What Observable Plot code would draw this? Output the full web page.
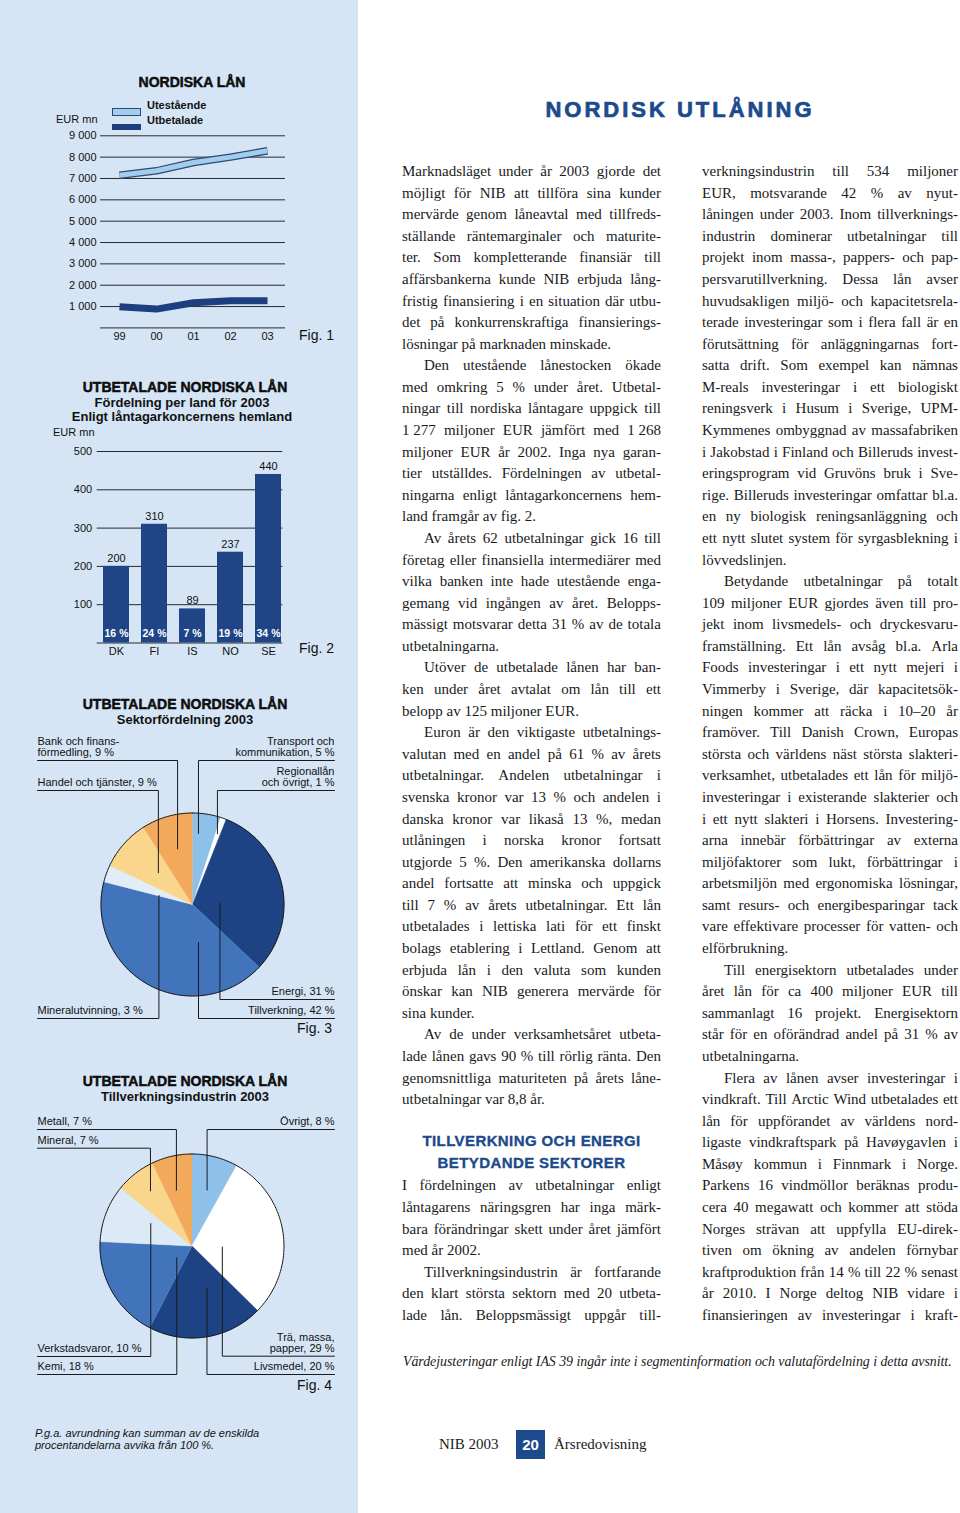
<!DOCTYPE html>
<html><head><meta charset="utf-8">
<script src="https://cdn.jsdelivr.net/npm/d3@7"></script>
<script src="https://cdn.jsdelivr.net/npm/@observablehq/plot@0.6"></script>
<style>
body{margin:0;background:#fff;}
#page{position:relative;width:960px;height:1513px;overflow:hidden;font-family:"Liberation Sans",Arial,sans-serif;color:#111;}
#panel{position:absolute;left:0;top:0;width:358px;height:1513px;background:#d5e5f5;}
.abs{position:absolute;white-space:nowrap;}
.ttl{font-weight:bold;font-size:14px;-webkit-text-stroke:0.45px #000;transform:translate(-50%,-50%);}
.sub{font-weight:bold;font-size:13px;transform:translate(-50%,-50%);}
.lbl{font-size:11px;transform:translateY(-50%);}
.fig{font-size:14px;transform:translateY(-50%);}
.chart{position:absolute;left:0;}
.chart svg{overflow:visible;}
.tl{position:absolute;height:21.6px;line-height:21.6px;font-family:"Liberation Serif","Times New Roman",serif;font-size:15px;color:#1a1a1a;white-space:nowrap;box-sizing:border-box;}
.just{display:flex;justify-content:space-between;}
.head{position:absolute;transform:translate(-50%,-50%);font-weight:bold;color:#1c4a8c;white-space:nowrap;-webkit-text-stroke:0.35px #1c4a8c;}
</style></head>
<body><div id="page"><div id="panel"></div></div>
<script>
// ---------- DATA ----------
const years = ["99","00","01","02","03"];
const outstanding = [7150, 7360, 7750, 8000, 8300];
const disbursed = [990, 880, 1180, 1268, 1277];
const fig1Ticks = [1000,2000,3000,4000,5000,6000,7000,8000,9000];

const countries = ["DK","FI","IS","NO","SE"];
const countryValues = [200, 310, 89, 237, 440];
const countryShares = ["16 %","24 %","7 %","19 %","34 %"];
const fig2Ticks = [100,200,300,400,500];

const sectorNames = ["Transport och\nkommunikation","Regionallån\noch övrigt","Energi","Tillverkning","Mineralutvinning","Handel och tjänster","Bank och finans-\nförmedling"];
const sectorValues = [5, 1, 31, 42, 3, 9, 9];
const sectorColors = ["#8dc1ea","#ffffff","#1e4384","#4274bc","#e3edf8","#f9d68c","#f2a95c"];

const industryNames = ["Övrigt","Trä, massa,\npapper","Livsmedel","Kemi","Verkstadsvaror","Mineral","Metall"];
const industryValues = [8, 29, 20, 18, 10, 7, 7];
const industryColors = ["#8dc1ea","#ffffff","#1e4384","#4274bc","#dce9f6","#f9d68c","#f2a95c"];

// ---------- LAYOUT ----------
const fig3Layout = [
  {side:"R", uy:30, ang:4.8, rf:0.78},
  {side:"R", uy:60, ang:19.4, rf:0.82},
  {side:"R", uy:269, ang:88, rf:0.30},
  {side:"R", uy:288, ang:171, rf:0.42},
  {side:"L", uy:288, ang:285, rf:0.38},
  {side:"L", uy:60, ang:313, rf:0.51},
  {side:"L", uy:30, ang:345, rf:0.63}
];
const fig4Layout = [
  {side:"R", uy:24, ang:15.1, rf:0.63},
  {side:"R", uy:250.7, ang:92, rf:0.33},
  {side:"R", uy:269, ang:160.6, rf:0.49},
  {side:"L", uy:269, ang:232, rf:0.21},
  {side:"L", uy:251, ang:298.5, rf:0.51},
  {side:"L", uy:42.7, ang:323, rf:0.75},
  {side:"L", uy:24, ang:344.4, rf:0.63}
];

const page = document.getElementById("page");
function add(html, cls, x, y, extra){
  const d = document.createElement("div");
  d.className = "abs " + cls; d.innerHTML = html;
  d.style.left = x + "px"; d.style.top = y + "px";
  if (extra) Object.assign(d.style, extra);
  page.appendChild(d); return d;
}
function place(svg, top){
  const w = document.createElement("div"); w.className = "chart"; w.style.top = top + "px";
  w.appendChild(svg); page.appendChild(w);
}
const baseStyle = {background:"transparent", fontFamily:"'Liberation Sans', Arial, sans-serif", fontSize:"11px", color:"#111", overflow:"visible"};
const fmt = d => d3.format(",")(d).replace(/,/g, " ");

// ---------- FIG 1 ----------
add("NORDISKA LÅN", "ttl", 192, 82);
add('<span style="display:inline-block;width:27px;height:6px;background:#a2cdef;border:1px solid #2b4a72;vertical-align:middle"></span>', "", 112, 102);
add('<span style="display:inline-block;width:29px;height:6px;background:#1d3f80;vertical-align:middle"></span>', "", 112, 117);
add("Utestående", "lbl", 147, 105, {fontWeight:"bold"});
add("Utbetalade", "lbl", 147, 119.5, {fontWeight:"bold"});
add("EUR mn", "lbl", 56, 118.5);
add("Fig. 1", "fig", 299, 335);

const f1out = years.map((y,i)=>({year:y, value:outstanding[i]}));
const f1dis = years.map((y,i)=>({year:y, value:disbursed[i]}));
place(Plot.plot({
  width:358, height:300, marginLeft:100, marginRight:73, marginTop:75.3, marginBottom:32.6,
  style:baseStyle,
  x:{type:"point", domain:years, padding:0.5},
  y:{domain:[0,9000]},
  marks:[
    Plot.ruleY([0, ...fig1Ticks], {stroke:"#2a2a2a", strokeWidth:1}),
    Plot.axisY({ticks:fig1Ticks, tickSize:0, tickPadding:4, tickFormat:fmt, label:null}),
    Plot.axisX({tickSize:0, tickPadding:4, label:null}),
    Plot.line(f1out, {x:"year", y:"value", stroke:"#2b4a72", strokeWidth:7.5, strokeLinecap:"butt"}),
    Plot.line(f1out, {x:"year", y:"value", stroke:"#a2cdef", strokeWidth:5, strokeLinecap:"butt"}),
    Plot.line(f1dis, {x:"year", y:"value", stroke:"#1d3f80", strokeWidth:7, strokeLinecap:"butt"})
  ]
}), 60);

// ---------- FIG 2 ----------
add("UTBETALADE NORDISKA LÅN", "ttl", 185, 386.5);
add("Fördelning per land för 2003", "sub", 182, 401.5);
add("Enligt låntagarkoncernens hemland", "sub", 182, 416);
add("EUR mn", "lbl", 53, 432);
add("Fig. 2", "fig", 299, 648);

const f2 = countries.map((c,i)=>({country:c, value:countryValues[i], share:countryShares[i]}));
place(Plot.plot({
  width:358, height:300, marginLeft:96.7, marginRight:75.7, marginTop:81, marginBottom:27.5,
  style:baseStyle,
  x:{type:"band", domain:countries, paddingInner:0.31, paddingOuter:0, insetLeft:5.3},
  y:{domain:[0,500]},
  marks:[
    Plot.ruleY([0, ...fig2Ticks], {stroke:"#2a2a2a", strokeWidth:1}),
    Plot.axisY({ticks:fig2Ticks, tickSize:0, tickPadding:5, label:null}),
    Plot.axisX({tickSize:0, tickPadding:4.5, label:null}),
    Plot.barY(f2, {x:"country", y:"value", fill:"#1f4587"}),
    Plot.text(f2, {x:"country", y:"value", text:d=>String(d.value), dy:-8, fontSize:11}),
    Plot.text(f2, {x:"country", y:()=>0, text:"share", dy:-9, fontSize:10.5, fontWeight:"bold", fill:"white"})
  ]
}), 370);

// ---------- PIES ----------
function pie(names, values, colors, layout, L){
  const arcs = d3.pie().sort(null).value(d=>d)(values);
  const polys = [];
  arcs.forEach((a,i)=>{
    polys.push({k:i, x:L.cx, y:L.cy, c:colors[i]});
    const n = Math.max(2, Math.ceil((a.endAngle-a.startAngle)/0.02));
    for (let j=0;j<=n;j++){
      const t = a.startAngle + (a.endAngle-a.startAngle)*j/n;
      polys.push({k:i, x:L.cx+L.r*Math.sin(t), y:L.cy-L.r*Math.cos(t), c:colors[i]});
    }
  });
  const ring = d3.range(0, 361, 2).map(t=>({x:L.cx+L.r*Math.sin(t*Math.PI/180), y:L.cy-L.r*Math.cos(t*Math.PI/180)}));
  const labels = names.map((n,i)=>({text:n+", "+values[i]+" %", side:layout[i].side, uy:layout[i].uy}));
  const leaders = [];
  layout.forEach((s,i)=>{
    const a = s.ang*Math.PI/180;
    const ax = L.cx + L.r*s.rf*Math.sin(a), ay = L.cy - L.r*s.rf*Math.cos(a);
    const ex = s.side==="L" ? L.left : L.right;
    leaders.push({k:i,x:ex,y:s.uy},{k:i,x:ax,y:s.uy},{k:i,x:ax,y:ay});
  });
  return Plot.plot({
    width:358, height:L.h, margin:0, style:baseStyle,
    x:{domain:[0,358], range:[0,358], axis:null},
    y:{domain:[0,L.h], range:[0,L.h], axis:null},
    marks:[
      Plot.line(polys, {x:"x", y:"y", z:"k", fill:"c", stroke:"c", strokeWidth:0.5}),
      Plot.line(ring, {x:"x", y:"y", stroke:"#1a1a1a", strokeWidth:1}),
      Plot.line(leaders, {x:"x", y:"y", z:"k", stroke:"#1a1a1a", strokeWidth:1}),
      Plot.text(labels.filter(d=>d.side==="L"), {x:()=>L.left, y:d=>d.uy-4.5, text:"text", textAnchor:"start", lineAnchor:"bottom", lineHeight:1.0, fontSize:11, fill:"#111"}),
      Plot.text(labels.filter(d=>d.side==="R"), {x:()=>L.right, y:d=>d.uy-4.5, text:"text", textAnchor:"end", lineAnchor:"bottom", lineHeight:1.0, fontSize:11, fill:"#111"})
    ]
  });
}

add("UTBETALADE NORDISKA LÅN", "ttl", 185, 704);
add("Sektorfördelning 2003", "sub", 185, 718.5);
place(pie(sectorNames, sectorValues, sectorColors, fig3Layout, {h:300, cx:192, cy:174, r:91.5, left:37, right:334}), 730);
add("Fig. 3", "fig", 297, 1028);

add("UTBETALADE NORDISKA LÅN", "ttl", 185, 1081);
add("Tillverkningsindustrin 2003", "sub", 185, 1095.5);
place(pie(industryNames, industryValues, industryColors, fig4Layout, {h:285, cx:191.5, cy:140.5, r:92, left:37, right:334}), 1105);
add("Fig. 4", "fig", 297, 1385);

add("P.g.a. avrundning kan summan av de enskilda<br>procentandelarna avvika från 100 %.", "", 35, 1427, {fontSize:"11px", fontStyle:"italic", lineHeight:"12px"});

// ---------- RIGHT COLUMN TEXT ----------
add("NORDISK UTLÅNING", "head", 680, 110, {fontSize:"22px", letterSpacing:"3px", webkitTextStroke:"0.7px #1c4a8c"});

const col1 = [
 {indent:false, end:true, lines:[
  "Marknadsläget under år 2003 gjorde det",
  "möjligt för NIB att tillföra sina kunder",
  "mervärde genom låneavtal med tillfreds-",
  "ställande räntemarginaler och maturite-",
  "ter. Som kompletterande finansiär till",
  "affärsbankerna kunde NIB erbjuda lång-",
  "fristig finansiering i en situation där utbu-",
  "det på konkurrenskraftiga finansierings-",
  "lösningar på marknaden minskade."]},
 {indent:true, end:true, lines:[
  "Den utestående lånestocken ökade",
  "med omkring 5 % under året. Utbetal-",
  "ningar till nordiska låntagare uppgick till",
  "1\u00a0277 miljoner EUR jämfört med 1\u00a0268",
  "miljoner EUR år 2002. Inga nya garan-",
  "tier utställdes. Fördelningen av utbetal-",
  "ningarna enligt låntagarkoncernens hem-",
  "land framgår av fig. 2."]},
 {indent:true, end:true, lines:[
  "Av årets 62 utbetalningar gick 16 till",
  "företag eller finansiella intermediärer med",
  "vilka banken inte hade utestående enga-",
  "gemang vid ingången av året. Belopps-",
  "mässigt motsvarar detta 31 % av de totala",
  "utbetalningarna."]},
 {indent:true, end:true, lines:[
  "Utöver de utbetalade lånen har ban-",
  "ken under året avtalat om lån till ett",
  "belopp av 125 miljoner EUR."]},
 {indent:true, end:true, lines:[
  "Euron är den viktigaste utbetalnings-",
  "valutan med en andel på 61 % av årets",
  "utbetalningar. Andelen utbetalningar i",
  "svenska kronor var 13 % och andelen i",
  "danska kronor var likaså 13 %, medan",
  "utlåningen i norska kronor fortsatt",
  "utgjorde 5 %. Den amerikanska dollarns",
  "andel fortsatte att minska och uppgick",
  "till 7 % av årets utbetalningar. Ett lån",
  "utbetalades i lettiska lati för ett finskt",
  "bolags etablering i Lettland. Genom att",
  "erbjuda lån i den valuta som kunden",
  "önskar kan NIB generera mervärde för",
  "sina kunder."]},
 {indent:true, end:true, lines:[
  "Av de under verksamhetsåret utbeta-",
  "lade lånen gavs 90 % till rörlig ränta. Den",
  "genomsnittliga maturiteten på årets låne-",
  "utbetalningar var 8,8 år."]},
 {skip:3},
 {indent:false, end:true, lines:[
  "I fördelningen av utbetalningar enligt",
  "låntagarens näringsgren har inga märk-",
  "bara förändringar skett under året jämfört",
  "med år 2002."]},
 {indent:true, end:false, lines:[
  "Tillverkningsindustrin är fortfarande",
  "den klart största sektorn med 20 utbeta-",
  "lade lån. Beloppsmässigt uppgår till-"]}
];
const col2 = [
 {indent:false, end:true, lines:[
  "verkningsindustrin till 534 miljoner",
  "EUR, motsvarande 42 % av nyut-",
  "låningen under 2003. Inom tillverknings-",
  "industrin dominerar utbetalningar till",
  "projekt inom massa-, pappers- och pap-",
  "persvarutillverkning. Dessa lån avser",
  "huvudsakligen miljö- och kapacitetsrela-",
  "terade investeringar som i flera fall är en",
  "förutsättning för anläggningarnas fort-",
  "satta drift. Som exempel kan nämnas",
  "M-reals investeringar i ett biologiskt",
  "reningsverk i Husum i Sverige, UPM-",
  "Kymmenes ombyggnad av massafabriken",
  "i Jakobstad i Finland och Billeruds invest-",
  "eringsprogram vid Gruvöns bruk i Sve-",
  "rige. Billeruds investeringar omfattar bl.a.",
  "en ny biologisk reningsanläggning och",
  "ett nytt slutet system för syrgasblekning i",
  "lövvedslinjen."]},
 {indent:true, end:true, lines:[
  "Betydande utbetalningar på totalt",
  "109 miljoner EUR gjordes även till pro-",
  "jekt inom livsmedels- och dryckesvaru-",
  "framställning. Ett lån avsåg bl.a. Arla",
  "Foods investeringar i ett nytt mejeri i",
  "Vimmerby i Sverige, där kapacitetsök-",
  "ningen kommer att räcka i 10–20 år",
  "framöver. Till Danish Crown, Europas",
  "största och världens näst största slakteri-",
  "verksamhet, utbetalades ett lån för miljö-",
  "investeringar i existerande slakterier och",
  "i ett nytt slakteri i Horsens. Investering-",
  "arna innebär förbättringar av externa",
  "miljöfaktorer som lukt, förbättringar i",
  "arbetsmiljön med ergonomiska lösningar,",
  "samt resurs- och energibesparingar tack",
  "vare effektivare processer för vatten- och",
  "elförbrukning."]},
 {indent:true, end:true, lines:[
  "Till energisektorn utbetalades under",
  "året lån för ca 400 miljoner EUR till",
  "sammanlagt 16 projekt. Energisektorn",
  "står för en oförändrad andel på 31 % av",
  "utbetalningarna."]},
 {indent:true, end:false, lines:[
  "Flera av lånen avser investeringar i",
  "vindkraft. Till Arctic Wind utbetalades ett",
  "lån för uppförandet av världens nord-",
  "ligaste vindkraftspark på Havøygavlen i",
  "Måsøy kommun i Finnmark i Norge.",
  "Parkens 16 vindmöllor beräknas produ-",
  "cera 40 megawatt och kommer att stöda",
  "Norges strävan att uppfylla EU-direk-",
  "tiven om ökning av andelen förnybar",
  "kraftproduktion från 14 % till 22 % senast",
  "år 2010. I Norge deltog NIB vidare i",
  "finansieringen av investeringar i kraft-"]}
];
const PITCH = 21.585, FIRST = 173.5;
function column(blocks, x0, width){
  let slot = 0;
  blocks.forEach(b=>{
    if (b.skip){ slot += b.skip; return; }
    b.lines.forEach((ln,i)=>{
      const d = document.createElement("div");
      d.className = "tl";
      d.style.left = x0 + "px"; d.style.width = width + "px";
      d.style.top = (FIRST + slot*PITCH - 12.5) + "px";
      if (b.indent && i===0) d.style.paddingLeft = "22px";
      const last = (i === b.lines.length-1) && b.end;
      if (last){ d.textContent = ln; }
      else {
        d.classList.add("just");
        ln.split(" ").forEach(w=>{ const s=document.createElement("span"); s.textContent=w; d.appendChild(s); });
      }
      page.appendChild(d);
      slot++;
    });
  });
}
column(col1, 402, 259);
column(col2, 702, 256);
add("TILLVERKNING OCH ENERGI", "head", 531.5, 1140, {fontSize:"15px", letterSpacing:"0.4px"});
add("BETYDANDE SEKTORER", "head", 531.5, 1161.5, {fontSize:"15px", letterSpacing:"0.4px"});

add("Värdejusteringar enligt IAS 39 ingår inte i segmentinformation och valutafördelning i detta avsnitt.", "", 403, 1352,
  {fontFamily:"'Liberation Serif', serif", fontStyle:"italic", fontSize:"13.9px", letterSpacing:"-0.04px", color:"#1a1a1a", lineHeight:"20px"});

// footer
add("NIB 2003", "", 439, 1434, {fontFamily:"'Liberation Serif', serif", fontSize:"15px", color:"#1a1a1a", lineHeight:"20px"});
add("20", "", 516, 1430, {width:"29px", height:"29px", background:"#1c4a8c", color:"#fff", fontWeight:"bold", fontSize:"15px", lineHeight:"29px", textAlign:"center"});
add("Årsredovisning", "", 554, 1434, {fontFamily:"'Liberation Serif', serif", fontSize:"15px", color:"#1a1a1a", lineHeight:"20px"});
</script>
</body></html>
